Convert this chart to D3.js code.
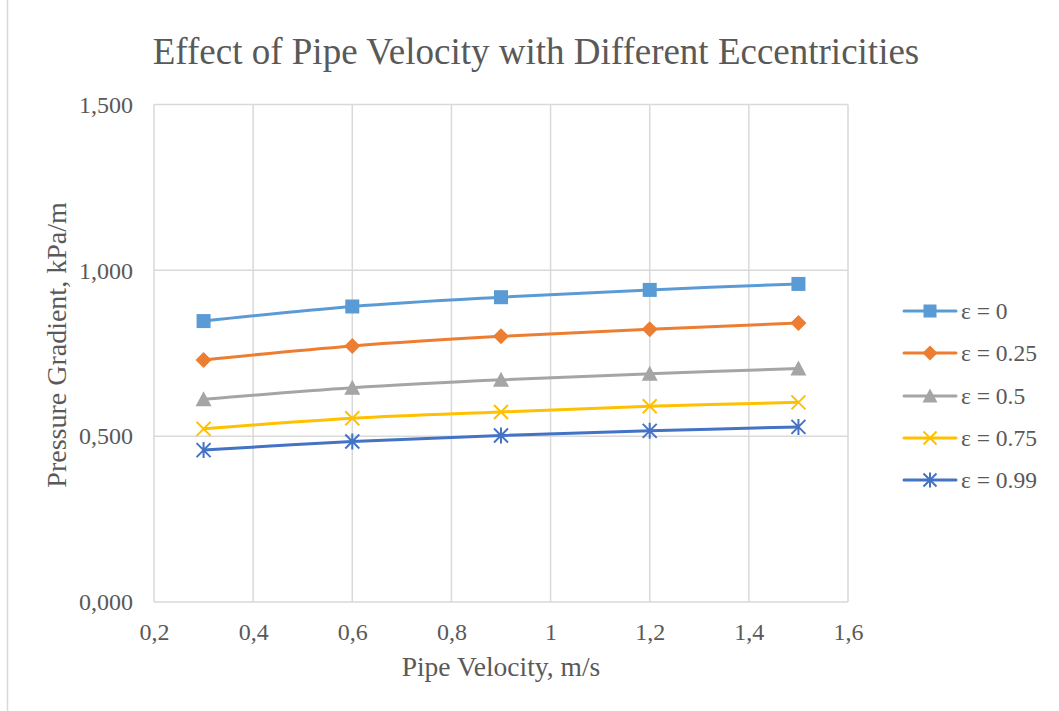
<!DOCTYPE html>
<html>
<head>
<meta charset="utf-8">
<script src="https://cdn.jsdelivr.net/npm/d3@7/dist/d3.min.js"></script>
<style>
  html, body { margin: 0; padding: 0; background: #fff; }
  svg { display: block; }
  text { font-family: "Liberation Serif", "Times New Roman", serif; fill: #595959; }
</style>
</head>
<body>
<script>
// Pipe velocity (m/s) and pressure gradient (kPa/m) for each eccentricity
const velocity = [0.3, 0.6, 0.9, 1.2, 1.5];
const seriesNames = ["ε = 0", "ε = 0.25", "ε = 0.5", "ε = 0.75", "ε = 0.99"];
const ecc000 = [0.847, 0.891, 0.919, 0.941, 0.959];
const ecc025 = [0.730, 0.772, 0.801, 0.822, 0.841];
const ecc050 = [0.611, 0.646, 0.670, 0.688, 0.704];
const ecc075 = [0.522, 0.554, 0.573, 0.590, 0.602];
const ecc099 = [0.458, 0.484, 0.502, 0.516, 0.528];
const xTicks = [0.2, 0.4, 0.6, 0.8, 1.0, 1.2, 1.4, 1.6];
const yTicks = [0, 0.5, 1.0, 1.5];

const seriesValues = [ecc000, ecc025, ecc050, ecc075, ecc099];
const colors = ["#5B9BD5", "#ED7D31", "#A5A5A5", "#FFC000", "#4472C4"];
const markers = ["square", "diamond", "triangle", "x", "star"];

const W = 1059, H = 711;
const svg = d3.select("body").append("svg").attr("width", W).attr("height", H);

// outer chart frame edge
svg.append("line").attr("x1", 7.5).attr("x2", 7.5).attr("y1", 0).attr("y2", H)
  .attr("stroke", "#d9d9d9").attr("stroke-width", 1.5);

const x = d3.scaleLinear().domain([0.2, 1.6]).range([154, 848]);
const y = d3.scaleLinear().domain([0, 1.5]).range([602, 104.5]);

const commaFmt = v => d3.format("~g")(+v.toFixed(3)).replace(".", ",");

// gridlines
const grid = svg.append("g");
grid.selectAll(".vg").data(xTicks).join("line")
  .attr("x1", d => x(d)).attr("x2", d => x(d))
  .attr("y1", y(1.5)).attr("y2", y(0))
  .attr("stroke", "#d9d9d9").attr("stroke-width", 1.5);
grid.selectAll(".hg").data(yTicks).join("line")
  .attr("x1", x(0.2)).attr("x2", x(1.6))
  .attr("y1", d => y(d)).attr("y2", d => y(d))
  .attr("stroke", "#d9d9d9").attr("stroke-width", 1.5);

// axes (labels only; lines come from the grid)
const xAxis = svg.append("g").attr("transform", `translate(0,${y(0)})`)
  .call(d3.axisBottom(x).tickValues(xTicks).tickSize(0).tickPadding(21).tickFormat(commaFmt));
xAxis.select(".domain").remove();
xAxis.selectAll("text").attr("font-size", 24).style("font-family", "Liberation Serif").attr("fill", "#595959");

const yAxis = svg.append("g").attr("transform", `translate(${x(0.2)},0)`)
  .call(d3.axisLeft(y).tickValues(yTicks).tickSize(0).tickPadding(21)
    .tickFormat(d => d3.format(".3f")(d).replace(".", ",")));
yAxis.select(".domain").remove();
yAxis.selectAll("text").attr("font-size", 24).style("font-family", "Liberation Serif").attr("fill", "#595959");

// titles
svg.append("text").attr("x", 536).attr("y", 64).attr("text-anchor", "middle")
  .attr("font-size", 37).text("Effect of Pipe Velocity with Different Eccentricities");
svg.append("text").attr("x", 501).attr("y", 676).attr("text-anchor", "middle")
  .attr("font-size", 27.5).text("Pipe Velocity, m/s");
svg.append("text").attr("transform", "translate(66,345) rotate(-90)").attr("text-anchor", "middle")
  .attr("font-size", 28).text("Pressure Gradient, kPa/m");

function drawMarker(g, type, color, cx, cy, s) {
  const h = s / 2;
  if (type === "square") {
    g.append("rect").attr("x", cx - h).attr("y", cy - h).attr("width", s).attr("height", s)
      .attr("fill", color);
  } else if (type === "diamond") {
    g.append("path").attr("d", `M${cx},${cy - h - 1}L${cx + h + 1},${cy}L${cx},${cy + h + 1}L${cx - h - 1},${cy}Z`)
      .attr("fill", color);
  } else if (type === "triangle") {
    g.append("path").attr("d", `M${cx},${cy - h - 1}L${cx + h + 1},${cy + h}L${cx - h - 1},${cy + h}Z`)
      .attr("fill", color);
  } else if (type === "x") {
    g.append("path").attr("d", `M${cx - h},${cy - h}L${cx + h},${cy + h}M${cx - h},${cy + h}L${cx + h},${cy - h}`)
      .attr("stroke", color).attr("stroke-width", 2).attr("fill", "none");
  } else if (type === "star") {
    g.append("path").attr("d", `M${cx - h},${cy - h}L${cx + h},${cy + h}M${cx - h},${cy + h}L${cx + h},${cy - h}M${cx},${cy - h - 1}L${cx},${cy + h + 1}`)
      .attr("stroke", color).attr("stroke-width", 2).attr("fill", "none");
  }
}

const line = d3.line().x(d => x(d[0])).y(d => y(d[1])).curve(d3.curveCatmullRom.alpha(0.5));

seriesValues.forEach((vals, i) => {
  const pts = velocity.map((v, j) => [v, vals[j]]);
  const g = svg.append("g");
  g.append("path").datum(pts).attr("d", line)
    .attr("fill", "none").attr("stroke", colors[i]).attr("stroke-width", 3)
    .attr("stroke-linecap", "round");
  pts.forEach(p => drawMarker(g, markers[i], colors[i], x(p[0]), y(p[1]), 14));
});

// legend
const legendY = [311, 353, 396, 438, 480];
seriesNames.forEach((name, i) => {
  const g = svg.append("g");
  g.append("line").attr("x1", 904).attr("x2", 956).attr("y1", legendY[i]).attr("y2", legendY[i])
    .attr("stroke", colors[i]).attr("stroke-width", 3).attr("stroke-linecap", "round");
  drawMarker(g, markers[i], colors[i], 930, legendY[i], 13);
  g.append("text").attr("x", 961).attr("y", legendY[i] + 8).attr("font-size", 23.5).text(name);
});
</script>
</body>
</html>
